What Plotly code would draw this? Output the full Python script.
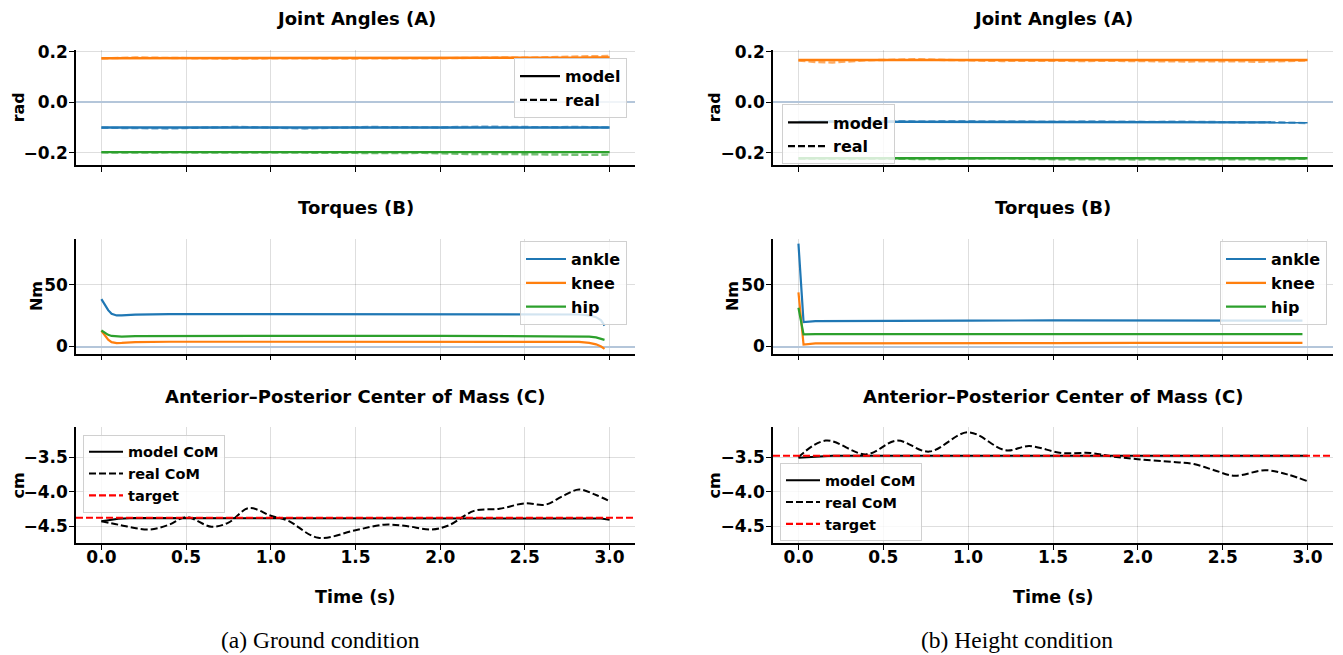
import plotly.graph_objects as go

# page body adds an 8px margin; figure is sized to fill the rest of the window
OFF = 8
W, H = 1343 - OFF, 655 - OFF
BLUE, ORANGE, GREEN = "#1f77b4", "#ff7f0e", "#2ca02c"
FONT = "DejaVu Sans"

# ---------------- data ----------------
T_ANG = [0.0, 0.1, 0.2, 0.3, 0.4, 0.5, 0.6, 0.7, 0.8, 0.9, 1.0, 1.1, 1.2, 1.3, 1.4, 1.5,
         1.6, 1.7, 1.8, 1.9, 2.0, 2.1, 2.2, 2.3, 2.4, 2.5, 2.6, 2.7, 2.8, 2.9, 3.0]

# Ground condition - joint angles (rad)
G_KNEE_MODEL = [0.175] * 25 + [0.176, 0.176, 0.177, 0.177, 0.178, 0.178]
G_KNEE_REAL = [0.174, 0.176, 0.178, 0.177, 0.176, 0.175, 0.173, 0.172, 0.173, 0.174, 0.175,
               0.176, 0.175, 0.174, 0.173, 0.174, 0.175, 0.176, 0.176, 0.175, 0.175, 0.176,
               0.177, 0.178, 0.178, 0.177, 0.179, 0.181, 0.182, 0.183, 0.184]
G_ANKLE_MODEL = [-0.100] * 31
G_ANKLE_REAL = [-0.101, -0.102, -0.104, -0.103, -0.104, -0.102, -0.100, -0.099, -0.098, -0.099,
                -0.101, -0.103, -0.104, -0.102, -0.100, -0.099, -0.098, -0.099, -0.100, -0.101,
                -0.100, -0.098, -0.097, -0.097, -0.098, -0.099, -0.100, -0.099, -0.098, -0.099,
                -0.100]
G_HIP_MODEL = [-0.198] * 31
G_HIP_REAL = [-0.199, -0.200, -0.201, -0.200, -0.199, -0.199, -0.200, -0.200, -0.199, -0.198,
              -0.198, -0.199, -0.200, -0.201, -0.200, -0.201, -0.202, -0.201, -0.200, -0.201,
              -0.203, -0.205, -0.206, -0.205, -0.206, -0.207, -0.208, -0.207, -0.208, -0.209,
              -0.208]

# Height condition - joint angles (rad)
H_KNEE_MODEL = [0.168] * 31
H_KNEE_REAL = [0.166, 0.160, 0.158, 0.163, 0.167, 0.168, 0.170, 0.171, 0.169, 0.167, 0.166,
               0.165, 0.164, 0.165, 0.164, 0.163, 0.163, 0.164, 0.165, 0.164, 0.163, 0.164,
               0.163, 0.162, 0.163, 0.164, 0.163, 0.161, 0.162, 0.164, 0.166]
H_ANKLE_MODEL = [-0.077] * 25 + [-0.078, -0.078, -0.079, -0.079, -0.080, -0.080]
H_ANKLE_REAL = [-0.078, -0.076, -0.075, -0.076, -0.075, -0.074, -0.075, -0.076, -0.075, -0.074,
                -0.075, -0.076, -0.075, -0.076, -0.077, -0.078, -0.077, -0.076, -0.077, -0.078,
                -0.079, -0.078, -0.077, -0.078, -0.079, -0.080, -0.081, -0.080, -0.079, -0.081,
                -0.083]
H_HIP_MODEL = [-0.222] * 31
H_HIP_REAL = [-0.224, -0.225, -0.226, -0.225, -0.224, -0.223, -0.224, -0.226, -0.225, -0.224,
              -0.222, -0.221, -0.222, -0.224, -0.226, -0.228, -0.227, -0.226, -0.227, -0.228,
              -0.227, -0.226, -0.225, -0.226, -0.227, -0.226, -0.225, -0.226, -0.227, -0.226,
              -0.224]

# Torques (Nm)
G_T_TORQUE = [0.0, 0.02, 0.04, 0.06, 0.09, 0.12, 0.2, 0.4, 1.0, 2.0, 2.7, 2.82, 2.88, 2.92, 2.95, 2.97]
G_ANKLE_TQ = [38.5, 34.0, 29.5, 26.5, 25.2, 25.3, 25.9, 26.3, 26.3, 26.2, 26.2, 26.0, 25.2, 23.8, 21.2, 17.0]
G_KNEE_TQ = [12.8, 9.0, 5.5, 3.6, 2.8, 2.9, 3.5, 3.9, 4.0, 4.0, 4.0, 3.8, 3.0, 1.8, 0.0, -1.9]
G_HIP_TQ = [13.0, 11.0, 9.5, 8.6, 8.1, 8.1, 8.4, 8.6, 8.6, 8.6, 8.6, 8.5, 8.1, 7.4, 6.4, 5.4]

H_T_TORQUE = [0.0, 0.03, 0.1, 0.5, 1.0, 1.5, 2.0, 2.5, 2.97]
H_ANKLE_TQ = [83.5, 19.8, 20.6, 21.0, 21.0, 21.2, 21.0, 21.2, 21.0]
H_KNEE_TQ = [44.0, 1.6, 2.6, 2.8, 2.7, 2.8, 2.9, 3.0, 3.0]
H_HIP_TQ = [31.5, 9.8, 10.0, 10.1, 10.1, 10.1, 10.1, 10.1, 10.1]

# Centre of mass (cm)
G_T_MODEL_COM = [0.0, 0.05, 0.1, 0.2, 1.0, 2.0, 2.9, 2.95, 3.0]
G_MODEL_COM = [-4.43, -4.41, -4.395, -4.385, -4.385, -4.385, -4.385, -4.39, -4.41]
G_T_REAL_COM = [0.0, 0.1, 0.28, 0.4, 0.5, 0.65, 0.75, 0.87, 1.0, 1.1, 1.28, 1.5, 1.67, 1.8,
                1.95, 2.05, 2.2, 2.35, 2.5, 2.62, 2.72, 2.82, 2.92, 3.0]
G_REAL_COM = [-4.43, -4.48, -4.55, -4.48, -4.37, -4.51, -4.45, -4.24, -4.35, -4.42, -4.67,
              -4.56, -4.48, -4.50, -4.55, -4.49, -4.28, -4.25, -4.17, -4.19, -4.07, -3.97,
              -4.05, -4.14]
G_TARGET = -4.38

H_T_MODEL_COM = [0.0, 0.05, 0.1, 0.2, 1.0, 2.0, 3.0]
H_MODEL_COM = [-3.51, -3.50, -3.49, -3.48, -3.48, -3.48, -3.48]
H_T_REAL_COM = [0.0, 0.16, 0.4, 0.58, 0.77, 1.0, 1.22, 1.36, 1.55, 1.72, 1.85, 2.0, 2.2,
                2.33, 2.45, 2.57, 2.75, 2.88, 3.0]
H_REAL_COM = [-3.50, -3.26, -3.46, -3.26, -3.42, -3.14, -3.40, -3.34, -3.44, -3.44, -3.49,
              -3.53, -3.57, -3.60, -3.69, -3.77, -3.69, -3.75, -3.85]
H_TARGET = -3.48

X_RANGE = [-0.15, 3.15]
X_TICKS = [0.0, 0.5, 1.0, 1.5, 2.0, 2.5, 3.0]
X_TICK_LABELS = ["0.0", "0.5", "1.0", "1.5", "2.0", "2.5", "3.0"]
ANG_RANGE = [-0.248, 0.208]
ANG_TICKS = [-0.2, 0.0, 0.2]
ANG_TICK_LABELS = ["\u22120.2", "0.0", "0.2"]
TQ_RANGE = [-5.7, 87.5]
TQ_TICKS = [0, 50]
TQ_TICK_LABELS = ["0", "50"]
COM_RANGE = [-4.75, -3.07]
COM_TICKS = [-4.5, -4.0, -3.5]
COM_TICK_LABELS = ["\u22124.5", "\u22124.0", "\u22123.5"]

TITLES = ["Joint Angles (A)", "Torques (B)", "Anterior\u2013Posterior Center of Mass (C)"]
YLABELS = ["rad", "Nm", "cm"]
XLABEL = "Time (s)"
CAPTIONS = ["(a) Ground condition", "(b) Height condition"]

# ---------------- layout geometry (window pixels) ----------------
COL_X = [(76, 635), (773, 1333)]
ROW_Y = [(42.5, 159.3), (234.5, 351.4), (426.6, 544.4)]
TITLE_Y = [11, 203, 395]
XLABEL_Y = 599
CAPTION_Y = 643
YLABEL_X = [[18, 36, 18], [714, 732, 714]]

DASH = "7px,3px"
fig = go.Figure()


def px_x(p):
    return (p - OFF) / W


def px_y(p):
    return 1 - (p - OFF) / H


def ax_id(col, row):
    return col * 3 + row + 1


def add_line(col, row, x, y, color, dash=None, width=2.2, opacity=1.0, name=None,
             legend=None, showlegend=False, shape="linear"):
    i = ax_id(col, row)
    fig.add_trace(go.Scatter(
        x=x, y=y, mode="lines", name=name,
        line=dict(color=color, width=width, dash=dash or "solid", shape=shape),
        opacity=opacity, xaxis=f"x{i}", yaxis=f"y{i}",
        showlegend=showlegend, legend=legend, hoverinfo="skip"))


def add_proxy(col, row, name, color, dash, legend):
    i = ax_id(col, row)
    fig.add_trace(go.Scatter(
        x=[None], y=[None], mode="lines", name=name,
        line=dict(color=color, width=2.2, dash=dash),
        xaxis=f"x{i}", yaxis=f"y{i}", showlegend=True, legend=legend))


conds = [
    dict(ang=[(G_ANKLE_MODEL, G_ANKLE_REAL, BLUE), (G_KNEE_MODEL, G_KNEE_REAL, ORANGE),
              (G_HIP_MODEL, G_HIP_REAL, GREEN)],
         t_tq=G_T_TORQUE, tq=[(G_ANKLE_TQ, BLUE, "ankle"), (G_KNEE_TQ, ORANGE, "knee"),
                              (G_HIP_TQ, GREEN, "hip")],
         tm=G_T_MODEL_COM, m=G_MODEL_COM, tr=G_T_REAL_COM, r=G_REAL_COM, tgt=G_TARGET),
    dict(ang=[(H_ANKLE_MODEL, H_ANKLE_REAL, BLUE), (H_KNEE_MODEL, H_KNEE_REAL, ORANGE),
              (H_HIP_MODEL, H_HIP_REAL, GREEN)],
         t_tq=H_T_TORQUE, tq=[(H_ANKLE_TQ, BLUE, "ankle"), (H_KNEE_TQ, ORANGE, "knee"),
                              (H_HIP_TQ, GREEN, "hip")],
         tm=H_T_MODEL_COM, m=H_MODEL_COM, tr=H_T_REAL_COM, r=H_REAL_COM, tgt=H_TARGET),
]


def leg_name(k):
    return "legend" if k == 1 else f"legend{k}"


for col, c in enumerate(conds):
    la = leg_name(ax_id(col, 0))
    lb = leg_name(ax_id(col, 1))
    lc = leg_name(ax_id(col, 2))
    # joint angles
    for model, real, color in c["ang"]:
        add_line(col, 0, T_ANG, model, color, width=2.4)
        add_line(col, 0, T_ANG, real, color, dash=DASH, width=2.4, opacity=0.65)
    add_proxy(col, 0, "model", "black", "solid", la)
    add_proxy(col, 0, "real", "black", DASH, la)
    # torques
    for vals, color, name in c["tq"]:
        add_line(col, 1, c["t_tq"], vals, color, width=2.2, name=name, legend=lb,
                 showlegend=True)
    # CoM
    add_line(col, 2, c["tm"], c["m"], "black", width=2.0, name="model CoM", legend=lc,
             showlegend=True)
    add_line(col, 2, c["tr"], c["r"], "black", dash=DASH, width=2.0, name="real CoM",
             legend=lc, showlegend=True, shape="spline")
    add_line(col, 2, X_RANGE, [c["tgt"], c["tgt"]], "#ff0000", dash=DASH, width=2.2,
             name="target", legend=lc, showlegend=True)

# axes
layout = dict(width=W, height=H, margin=dict(l=0, r=0, t=0, b=0),
              paper_bgcolor="white", plot_bgcolor="white",
              font=dict(family=FONT, size=16, color="black", weight="bold"),
              showlegend=True)
yspecs = [(ANG_RANGE, ANG_TICKS, ANG_TICK_LABELS, True),
          (TQ_RANGE, TQ_TICKS, TQ_TICK_LABELS, True),
          (COM_RANGE, COM_TICKS, COM_TICK_LABELS, False)]
for col in range(2):
    for row in range(3):
        i = ax_id(col, row)
        x0, x1 = COL_X[col]
        y0, y1 = ROW_Y[row]
        rng, tv, tt, zl = yspecs[row]
        common = dict(showline=True, linecolor="black", linewidth=1.6, ticks="outside",
                      ticklen=5, tickwidth=1.3, tickcolor="black", showgrid=True,
                      gridcolor="rgba(0,0,0,0.13)", gridwidth=1,
                      tickfont=dict(family=FONT, size=17, color="black", weight="bold"))
        layout[f"xaxis{i}"] = dict(domain=[px_x(x0), px_x(x1)], anchor=f"y{i}",
                                   range=X_RANGE, tickmode="array", tickvals=X_TICKS,
                                   ticktext=X_TICK_LABELS, showticklabels=(row == 2),
                                   ticklabelstandoff=-7, zeroline=False, **common)
        layout[f"yaxis{i}"] = dict(domain=[px_y(y1), px_y(y0)], anchor=f"x{i}",
                                   range=rng, tickmode="array", tickvals=tv, ticktext=tt,
                                   ticklabelstandoff=-2,
                                   zeroline=zl, zerolinecolor="#b4c6da", zerolinewidth=1.6,
                                   **common)

# legends
legbase = dict(bgcolor="rgba(255,255,255,0.8)", bordercolor="#d0d0d0", borderwidth=1,
               tracegroupgap=0)
big = dict(font=dict(family=FONT, size=16, color="black", weight="bold"), itemwidth=40)
small = dict(font=dict(family=FONT, size=14.5, color="black", weight="bold"), itemwidth=34)
legpos = {
    1: dict(x=px_x(627), y=px_y(51), xanchor="right", yanchor="top", **big),
    2: dict(x=px_x(627), y=px_y(237), xanchor="right", yanchor="top", **big),
    3: dict(x=px_x(83), y=px_y(434), xanchor="left", yanchor="top", **small),
    4: dict(x=px_x(782), y=px_y(98), xanchor="left", yanchor="top", **big),
    5: dict(x=px_x(1327), y=px_y(237), xanchor="right", yanchor="top", **big),
    6: dict(x=px_x(780), y=px_y(463), xanchor="left", yanchor="top", **small),
}
for k, pos in legpos.items():
    layout[leg_name(k)] = dict(**legbase, **pos)

annotations = []
for col in range(2):
    x0, x1 = COL_X[col]
    cx = px_x((x0 + x1) / 2)
    for row in range(3):
        annotations.append(dict(text=TITLES[row], x=cx, y=px_y(TITLE_Y[row]), xref="paper",
                                yref="paper", showarrow=False, xanchor="center",
                                yanchor="middle",
                                font=dict(family=FONT, size=18, color="black",
                                          weight="bold")))
        y0, y1 = ROW_Y[row]
        annotations.append(dict(text=YLABELS[row], x=px_x(YLABEL_X[col][row]),
                                y=px_y((y0 + y1) / 2), xref="paper", yref="paper",
                                showarrow=False, textangle=-90, xanchor="center",
                                yanchor="middle",
                                font=dict(family=FONT, size=16, color="black",
                                          weight="bold")))
    annotations.append(dict(text=XLABEL, x=cx, y=px_y(XLABEL_Y), xref="paper", yref="paper",
                            showarrow=False, xanchor="center", yanchor="middle",
                            font=dict(family=FONT, size=17.5, color="black", weight="bold")))
cap_x = [320, 1017]
for col in range(2):
    annotations.append(dict(text=CAPTIONS[col], x=px_x(cap_x[col]), y=px_y(CAPTION_Y),
                            xref="paper", yref="paper", showarrow=False, xanchor="center",
                            yanchor="middle",
                            font=dict(family="Liberation Serif", size=23.5, color="black",
                                      weight="normal")))
layout["annotations"] = annotations
fig.update_layout(**layout)
fig.write_html("out.html")
